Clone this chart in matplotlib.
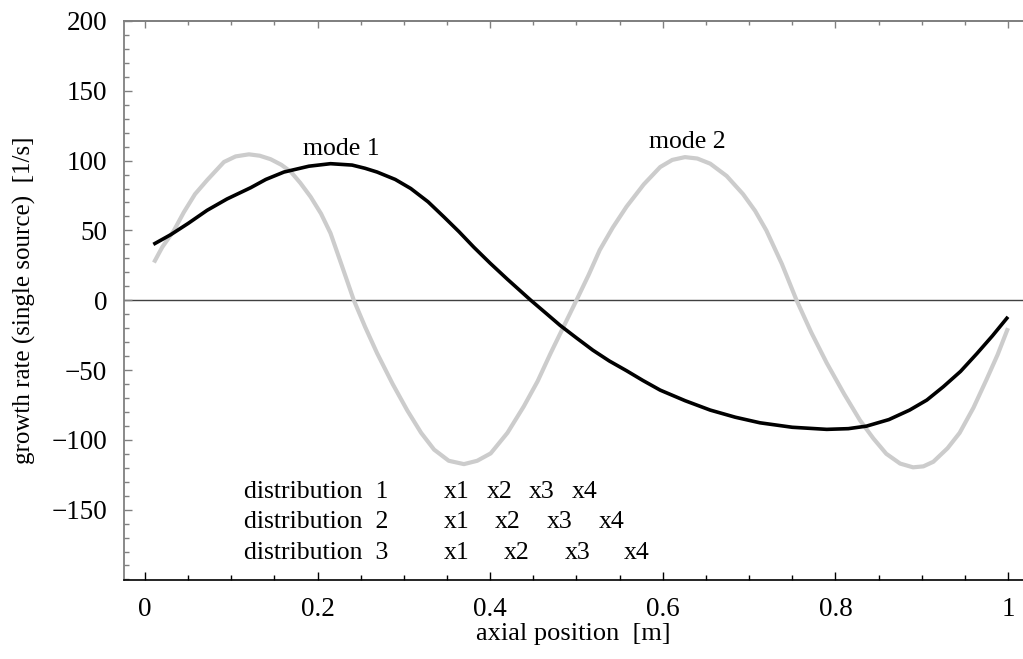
import matplotlib
matplotlib.use("Agg")
import matplotlib.pyplot as plt
from matplotlib.ticker import MultipleLocator

plt.rcParams['font.family'] = ['Liberation Serif', 'DejaVu Serif']

# mode 1 (black)
mode1_x = [0.0097, 0.03, 0.05, 0.072, 0.095, 0.1225, 0.14, 0.161, 0.19, 0.215, 0.24, 0.255,
           0.269, 0.29, 0.308, 0.328, 0.3465, 0.364, 0.381, 0.40, 0.42, 0.447, 0.465, 0.481,
           0.50, 0.519, 0.538, 0.558, 0.577, 0.597, 0.626, 0.655, 0.684, 0.7126, 0.750,
           0.790, 0.815, 0.836, 0.862, 0.886, 0.906, 0.925, 0.945, 0.964, 0.982, 1.0]
mode1_y = [40.0, 47.0, 55.0, 64.4, 72.5, 80.6, 86.5, 91.8, 96.0, 97.8, 96.8, 94.5,
           91.8, 86.5, 80.0, 70.5, 59.6, 49.0, 38.0, 26.5, 15.0, 0.0, -9.5, -18.0,
           -27.0, -35.8, -43.5, -50.5, -57.5, -64.4, -72.0, -78.7, -83.8, -87.8, -91.0,
           -92.5, -92.0, -90.2, -85.5, -78.7, -71.5, -62.0, -51.0, -38.2, -25.5, -11.9]

# mode 2 (grey)
mode2_x = [0.0104, 0.02, 0.0336, 0.045, 0.058, 0.072, 0.0915, 0.105, 0.1205, 0.133, 0.1456,
           0.158, 0.169, 0.180, 0.192, 0.204, 0.215, 0.228, 0.242, 0.255, 0.269, 0.287,
           0.304, 0.320, 0.335, 0.352, 0.3696, 0.385, 0.4006, 0.420, 0.439, 0.455, 0.470,
           0.485, 0.500, 0.514, 0.527, 0.542, 0.558, 0.578, 0.597, 0.611, 0.6257, 0.640,
           0.655, 0.674, 0.693, 0.707, 0.720, 0.738, 0.755, 0.772, 0.790, 0.810, 0.8285,
           0.844, 0.859, 0.875, 0.890, 0.902, 0.9135, 0.930, 0.944, 0.960, 0.975, 0.988,
           1.000]
mode2_y = [27.0, 38.0, 50.0, 63.0, 76.0, 86.0, 99.0, 103.0, 104.5, 103.5, 101.0,
           97.0, 92.0, 84.0, 74.0, 62.0, 48.0, 25.0, 0.0, -19.0, -38.0, -60.0,
           -79.0, -95.0, -107.0, -115.0, -117.4, -115.0, -109.7, -95.0, -76.0, -58.0, -38.0,
           -19.0, 0.0, 18.0, 36.0, 52.0, 67.0, 83.0, 95.4, 100.5, 102.5, 101.5,
           97.8, 89.0, 76.0, 64.0, 50.0, 26.0, 0.0, -23.0, -45.0, -67.0, -86.0,
           -99.0, -110.0, -117.0, -119.7, -119.0, -115.7, -106.0, -95.0, -77.0, -57.0, -39.0,
           -20.0]

mode_labels = ["mode 1", "mode 2"]
mode_label_x = [0.228, 0.629]
mode_label_y = [108, 113]

dist_names = ["distribution  1", "distribution  2", "distribution  3"]
dist_points = ["x1", "x2", "x3", "x4"]
dist_point_x = [
    [0.3457, 0.3961, 0.4450, 0.4944],
    [0.3457, 0.4056, 0.4655, 0.5253],
    [0.3457, 0.4160, 0.4859, 0.5550],
]
dist_row_y = [-141.9, -162.9, -185.1]
dist_name_x = 0.1147

fig = plt.figure(figsize=(10.23, 6.59), dpi=100)
ax = fig.add_axes([124/1023, 1 - 580/659, 1 - 124/1023, (580 - 21)/659])

ax.axhline(0, color='#404040', lw=1.0, zorder=1)
ax.plot(mode2_x, mode2_y, color='#cccccc', lw=3.0, solid_capstyle='butt',
        solid_joinstyle='round', zorder=2)
ax.plot(mode1_x, mode1_y, color='black', lw=2.6, solid_capstyle='butt',
        solid_joinstyle='round', zorder=3)

ax.set_xlim(-0.0243, 1.0174)
ax.set_ylim(-200.4, 200)

fs = 18.5
for t, x, y in zip(mode_labels, mode_label_x, mode_label_y):
    ax.text(x, y, t, ha='center', va='center', fontsize=fs)

for name, xs, y in zip(dist_names, dist_point_x, dist_row_y):
    ax.text(dist_name_x, y, name, ha='left', va='baseline', fontsize=fs)
    for p, x in zip(dist_points, xs):
        ax.text(x, y, p, ha='left', va='baseline', fontsize=fs)

ax.xaxis.set_minor_locator(MultipleLocator(0.05))
ax.yaxis.set_minor_locator(MultipleLocator(10))
ax.set_xticks([0, 0.2, 0.4, 0.6, 0.8, 1.0])
ax.set_xticklabels(["0", "0.2", "0.4", "0.6", "0.8", "1"])
ax.set_yticks([-150, -100, -50, 0, 50, 100, 150, 200])
ax.set_yticklabels(["\u2212150", "\u2212100", "\u221250", "0", "50", "100", "150", "200"])

ax.tick_params(axis='x', which='both', direction='in', bottom=True, top=False,
               color='black', width=1.0, labelsize=19.5, pad=12)
ax.tick_params(axis='x', which='major', length=6)
ax.tick_params(axis='x', which='minor', length=3.5)
ax.tick_params(axis='y', which='both', direction='in', left=True, right=False,
               color='#808080', width=1.0, labelsize=19.5, pad=12)
ax.tick_params(axis='y', which='major', length=6)
ax.tick_params(axis='y', which='minor', length=3.5)

ax.spines['right'].set_visible(False)
ax.spines['left'].set_color('#808080')
ax.spines['left'].set_linewidth(1.3)
ax.spines['bottom'].set_color('black')
ax.spines['bottom'].set_linewidth(1.2)
ax.spines['top'].set_color('#808080')
ax.spines['top'].set_linewidth(1.3)

sec = ax.secondary_xaxis('top')
sec.set_xticks([0, 0.2, 0.4, 0.6, 0.8, 1.0])
sec.xaxis.set_minor_locator(MultipleLocator(0.05))
sec.tick_params(axis='x', which='both', direction='in', color='#808080', width=1.0,
                labeltop=False)
sec.tick_params(axis='x', which='major', length=5)
sec.tick_params(axis='x', which='minor', length=3)
sec.spines['top'].set_color('#808080')
sec.spines['top'].set_linewidth(1.3)

ax.set_xlabel("axial position  [m]", fontsize=19, labelpad=1)
ax.set_ylabel("growth rate (single source)  [1/s]", fontsize=18, labelpad=11)

fig.savefig("out.png", dpi=100)
